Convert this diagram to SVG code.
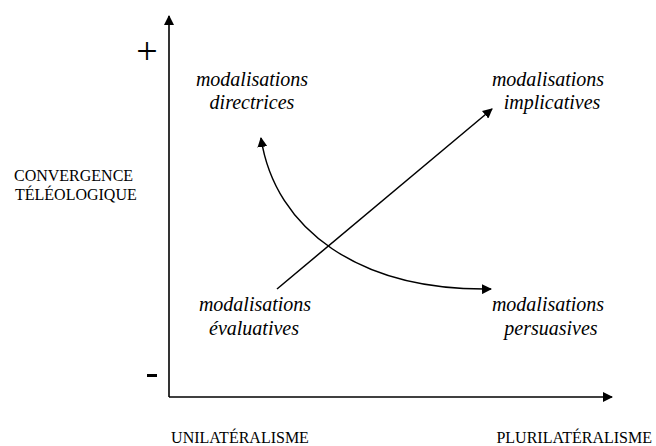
<svg xmlns="http://www.w3.org/2000/svg" width="656" height="446" viewBox="0 0 656 446">
<style>
.ax{stroke:#000;stroke-width:1.6;fill:none}
.cn{stroke:#000;stroke-width:1.5;fill:none}
.lab{font-family:"Liberation Serif",serif;font-style:italic;font-size:20px;fill:#000;text-anchor:middle}
.cap{font-family:"Liberation Serif",serif;font-size:16px;fill:#000}
.sym{font-family:"Liberation Serif",serif;fill:#000;text-anchor:middle}
</style>
<defs>
<marker id="ah" markerWidth="10" markerHeight="10" refX="9" refY="5" orient="auto-start-reverse" markerUnits="userSpaceOnUse">
<path d="M0,0 L10,5 L0,10 Z" fill="#000"/>
</marker>
</defs>
<rect width="656" height="446" fill="#fff"/>
<g id="axes">
<path class="ax" d="M169,397 L169,16" marker-end="url(#ah)"/>
<path class="ax" d="M169,397 L612,397" marker-end="url(#ah)"/>
<text class="sym" x="147" y="64" font-size="38">+</text>
<rect x="147" y="374" width="10" height="3" fill="#000"/>
</g>
<g id="axis-labels">
<text class="cap" x="14" y="181">CONVERGENCE</text>
<text class="cap" x="15" y="200">TÉLÉOLOGIQUE</text>
<text class="cap" x="240" y="443" text-anchor="middle" font-size="17">UNILATÉRALISME</text>
<text class="cap" x="652" y="443" text-anchor="end" font-size="17">PLURILATÉRALISME</text>
</g>
<g id="directrices">
<text class="lab" x="252" y="86">modalisations</text>
<text class="lab" x="252" y="109">directrices</text>
</g>
<g id="implicatives">
<text class="lab" x="548" y="86">modalisations</text>
<text class="lab" x="552" y="109">implicatives</text>
</g>
<g id="evaluatives">
<text class="lab" x="255" y="311">modalisations</text>
<text class="lab" x="254" y="335">évaluatives</text>
</g>
<g id="persuasives">
<text class="lab" x="548" y="311">modalisations</text>
<text class="lab" x="551" y="335">persuasives</text>
</g>
<g id="connectors">
<path class="cn" d="M277,289 L492,109" marker-end="url(#ah)"/>
<path class="cn" d="M491,289 C360,291 275,230 261,138" marker-start="url(#ah)" marker-end="url(#ah)"/>
</g>
</svg>
